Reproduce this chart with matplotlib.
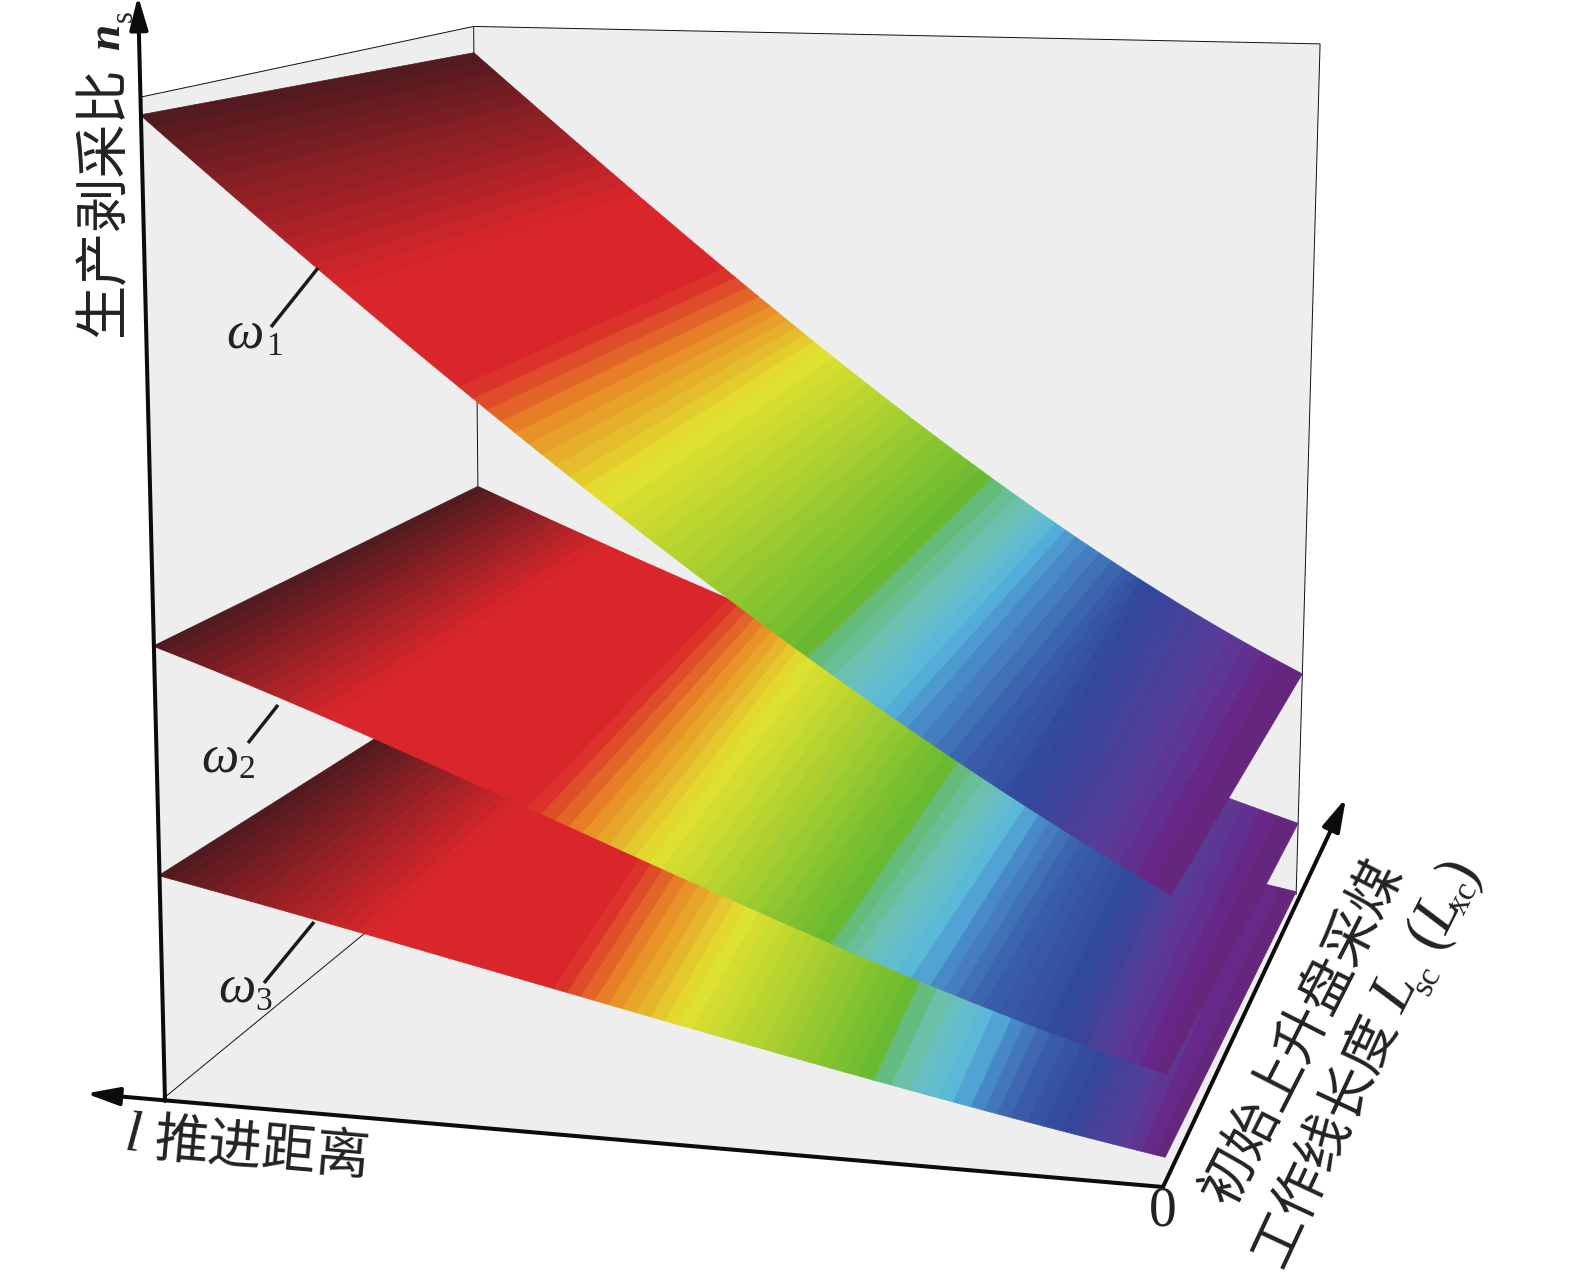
import numpy as np
import matplotlib
matplotlib.use('Agg')
import matplotlib.pyplot as plt
from matplotlib.colors import to_rgb
from mpl_toolkits.mplot3d.art3d import Poly3DCollection, Line3DCollection

# ---------- data (l: advance distance, n: stripping ratio) ----------
w1_front_l = [0, .162, .257, .345, .421, .515, .591, .669, .824, 1]
w1_front_n = [.284, .371, .435, .490, .542, .605, .664, .719, .842, .983]
w1_back_l = [0, .11, .223, .367, .5725, .713, .817, 1]
w1_back_n = [.262, .334, .383, .483, .623, .729, .832, .965]
w2_front_l = [0, .155, .28, .353, .496, .616, .872, 1]
w2_front_n = [.111, .155, .195, .224, .278, .329, .413, .466]
w2_back_l = [0, .078, .685, 1]
w2_back_n = [.088, .110, .319, .442]
w3_front_l = [0, .104, .211, .279, .466, .649, .84, 1]
w3_front_n = [.029, .046, .066, .080, .120, .158, .196, .231]
w3_back_l = [0, .033, 1]
w3_back_n = [.004, .010, .210]

band_colors = ['#5f2a74', '#6a2385', '#5a3c96', '#31489c', '#3a5fab', '#4a90cb', '#55b7dc', '#6cc1bd',
               '#63bb6d', '#64b830', '#e2e22f', '#e98a27', '#d9262a', '#d9262a', '#4e1a1f']
w1_stops_front = [0, .018, .065, .143, .197, .25, .273, .31, .345, .347, .55, .63, .685, .80, 1]
w1_stops_back = [0, .03, .086, .186, .212, .269, .293, .322, .368, .37, .574, .637, .693, .80, 1]
w2_stops_front = [0, .012, .05, .10, .175, .225, .243, .285, .32, .322, .50, .565, .62, .82, 1]
w2_stops_back = [0, .025, .085, .14, .20, .254, .27, .304, .36, .362, .574, .635, .686, .84, 1]
w3_stops_front = [0, .01, .036, .10, .147, .185, .202, .245, .278, .28, .47, .54, .595, .78, 1]
w3_stops_back = [0, .02, .07, .13, .19, .24, .266, .31, .355, .357, .567, .64, .70, .82, 1]

n_bands = 72
camera = np.array([[-990.5068352, 458.3791636, -32.1303336, 1164.5535858],
                   [-19.3929779, -65.2829653, -1067.7830763, 1185.9449511],
                   [0.0623259, 0.2521544, -0.0470794, 1.0]])

W, H = 1575, 1287
GREY = '#eeeeee'
plt.rcParams['font.family'] = ['Noto Sans CJK SC', 'DejaVu Sans']
fig = plt.figure(figsize=(W / 100, H / 100), dpi=100, facecolor='white')

ax = fig.add_axes([0, 0, 1, 1], projection='3d')
ax.set_axis_off()
ax.patch.set_visible(False)
ax.computed_zorder = False
ax.apply_aspect = lambda position=None: None
ax.viewLim.intervalx = (0, W)
ax.viewLim.intervaly = (H, 0)
depth = np.linalg.svd(camera)[2][-1]
M = np.vstack([camera[0], camera[1], depth, camera[2]])
ax.get_proj = lambda: M

# panes
panes = [[(1, 0, 0), (1, 1, 0), (1, 1, 1), (1, 0, 1)],
         [(1, 1, 0), (0, 1, 0), (0, 1, 1), (1, 1, 1)],
         [(0, 0, 0), (1, 0, 0), (1, 1, 0), (0, 1, 0)]]
ax.add_collection3d(Poly3DCollection(panes, facecolors=GREY, edgecolors=GREY,
                                     linewidths=0.3, zorder=1))
# thin box edges
box_edges = [[(1, 0, 1), (1, 1, 1)], [(1, 1, 1), (0, 1, 1)], [(1, 1, 1), (1, 1, 0)],
             [(0, 1, 1), (0, 1, 0)], [(1, 0, 0), (1, 1, 0)]]
ax.add_collection3d(Line3DCollection(box_edges, colors='#111111', linewidths=0.7, zorder=2))


def edge(ls, ns, at):
    return np.polyval(np.polyfit(ls, ns, 3 if len(ls) > 4 else 2), at)


def surface(fl, fn, bl, bn, stops_f, stops_b, z):
    rgb = np.array([to_rgb(c) for c in band_colors])
    verts, cols = [], []
    for i in range(len(band_colors) - 1):
        k = max(1, int(round(n_bands * (stops_f[i + 1] - stops_f[i]))))
        fr = np.linspace(0, 1, k + 1)
        lf = stops_f[i] + fr * (stops_f[i + 1] - stops_f[i])
        lb = stops_b[i] + fr * (stops_b[i + 1] - stops_b[i])
        nf = edge(fl, fn, lf)
        nb = edge(bl, bn, lb)
        for j in range(k):
            verts.append([(lf[j], 0, nf[j]), (lf[j + 1], 0, nf[j + 1]),
                          (lb[j + 1], 1, nb[j + 1]), (lb[j], 1, nb[j])])
            f = (j + .5) / k
            cols.append(rgb[i] * (1 - f) + rgb[i + 1] * f)
    ax.add_collection3d(Poly3DCollection(verts, facecolors=cols, edgecolors=cols,
                                         linewidths=0.5, zorder=z))


surface(w3_front_l, w3_front_n, w3_back_l, w3_back_n, w3_stops_front, w3_stops_back, 3)
surface(w2_front_l, w2_front_n, w2_back_l, w2_back_n, w2_stops_front, w2_stops_back, 4)
surface(w1_front_l, w1_front_n, w1_back_l, w1_back_n, w1_stops_front, w1_stops_back, 5)

# overlay in pixel coordinates for arrows and labels
ov = fig.add_axes([0, 0, 1, 1], zorder=10)
ov.set_xlim(0, W)
ov.set_ylim(H, 0)
ov.axis('off')
ov.patch.set_visible(False)

arrow = dict(arrowstyle='-|>,head_length=20,head_width=5.5', mutation_scale=1, lw=2.9,
             color='#0c0c0c', shrinkA=0, shrinkB=0, clip_on=False)
for start, tip in [((165, 1101), (138, -4)), ((1163, 1187), (86, 1093.5)), ((1163, 1187), (1346, 798))]:
    ov.annotate('', xy=tip, xytext=start, arrowprops=arrow, annotation_clip=False)

for x0, y0, x1, y1 in [(318, 268, 271, 327), (278, 705, 248, 743), (314, 922, 264, 983)]:
    ov.plot([x0, x1], [y0, y1], color='#1a1a1a', lw=2.5, solid_capstyle='butt')

TXT = '#222222'
CJK = ['Noto Sans CJK SC', 'DejaVu Sans']
SER = 'Liberation Serif'


def cjk(x, y, s, rot, size=39):
    ov.text(x, y, s, rotation=rot, rotation_mode='anchor', ha='center', va='center',
            fontsize=size, family=CJK, color=TXT, fontweight='light')


def ser(x, y, s, rot=0, size=38, style='italic', weight='normal'):
    ov.text(x, y, s, rotation=rot, rotation_mode='anchor', ha='center', va='center',
            fontsize=size, family=SER, style=style, weight=weight, color=TXT)


cjk(104, 202, '生产剥采比', 90)
ser(108, 37, 'n', 90, 34, 'italic', 'bold')
ser(124, 16, 's', 90, 22, 'normal')

ser(133, 1137, 'l', -5, 42)
cjk(262, 1151, '推进距离', -5)

ser(1163, 1212, '0', 0, 40, 'normal')

cjk(1304, 1033, '初始上升盘采煤', 63, 39)
cjk(1325, 1141, '工作线长度', 65, 39)
ser(1397, 993, 'L', 63, 44)
ser(1428, 981, 'sc', 63, 24, 'normal')
ser(1427, 935, '(', 63, 44, 'normal')
ser(1441, 914, 'L', 63, 44)
ser(1464, 898, 'xc', 63, 24, 'normal')
ser(1461, 872, ')', 63, 44, 'normal')

for x, y, s, xs, ys, sub in [(245, 335, '\u03c9', 274, 347, '1'),
                             (220, 758, '\u03c9', 247, 770, '2'),
                             (237, 988, '\u03c9', 264, 1002, '3')]:
    ser(x, y, s, 0, 38)
    ser(xs, ys, sub, 0, 24, 'normal')

fig.savefig('out.png', dpi=100, facecolor='white')
